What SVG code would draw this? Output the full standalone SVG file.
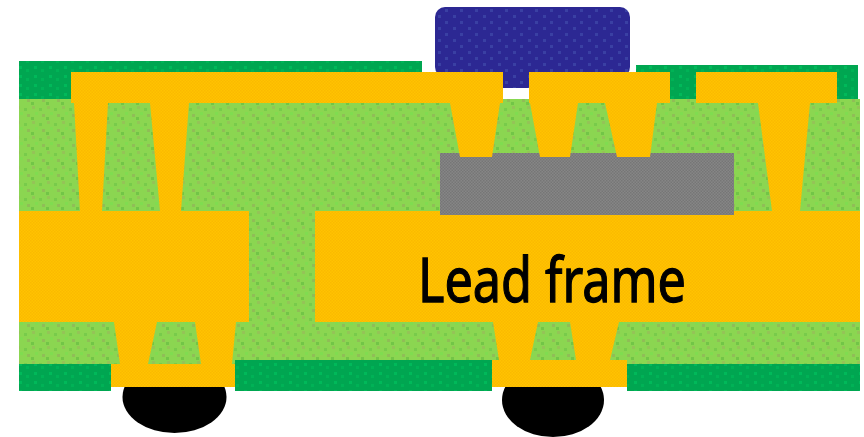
<svg xmlns="http://www.w3.org/2000/svg" width="864" height="437" viewBox="0 0 864 437">
<defs>
<pattern id="py" width="3" height="3" patternUnits="userSpaceOnUse"><rect width="3" height="3" fill="#ffc400"/><rect width="1.5" height="1.5" fill="#fbb900"/><rect x="1.500" y="1.500" width="1.500" height="1.500" fill="#fbb900"/></pattern>
<pattern id="pg" width="15" height="15" patternUnits="userSpaceOnUse"><rect width="15" height="15" fill="#8bd651"/><rect x="2" y="1" width="3" height="3" fill="#94c457"/><rect x="9" y="3" width="3" height="3" fill="#78cb4b"/><rect x="5" y="7" width="3" height="3" fill="#80dc50"/><rect x="12" y="9" width="3" height="3" fill="#90bd57"/><rect x="1" y="12" width="3" height="3" fill="#72c547"/></pattern>
<pattern id="pm" width="15" height="9" patternUnits="userSpaceOnUse"><rect width="15" height="9" fill="#00a651"/><rect x="4" y="3" width="3" height="3" fill="#00b95a"/><rect x="11" y="6" width="3" height="3" fill="#00b256"/></pattern>
<pattern id="pb" width="15" height="12" patternUnits="userSpaceOnUse"><rect width="15" height="12" fill="#2c2893"/><rect x="3" y="3" width="3" height="3" fill="#3a40a3"/><rect x="10" y="9" width="3" height="3" fill="#3a40a3"/></pattern>
<pattern id="pk" width="3" height="3" patternUnits="userSpaceOnUse"><rect width="3" height="3" fill="#868686"/><rect width="1.500" height="1.500" fill="#767676"/><rect x="1.500" y="1.500" width="1.500" height="1.500" fill="#767676"/></pattern>
<style>.y{fill:url(#py)}.g{fill:url(#pg)}.m{fill:url(#pm)}.b{fill:url(#pb)}.k{fill:url(#pk)}.s{fill:#000}</style>
</defs>
<rect width="864" height="437" fill="#fff"/>
<ellipse class="s" cx="174.500" cy="397" rx="52" ry="36"/>
<ellipse class="s" cx="553" cy="400" rx="51" ry="37"/>
<rect class="g" x="19" y="99" width="841" height="265"/>
<rect class="b" x="435" y="7" width="195" height="70" rx="10"/>
<rect class="b" x="503" y="70" width="26" height="18"/>
<rect x="503" y="88" width="26" height="11" fill="#fff"/>
<path class="m" d="M19 61H422V72H71V99H19Z"/>
<path class="m" d="M636 65H858V99H837V72H696V99H670V72H636Z"/>
<path class="y" d="M19 211H249V322H236L232 364H235V387H111V364H120L114 322H19Z"/>
<path class="g" d="M157 322H195L201 364H148Z"/>
<path class="y" d="M315 211H860V322H619L610 360H627V387H492V360H499L493 322H315Z"/>
<path class="g" d="M538 322H570L576 360H530Z"/>
<rect class="k" x="440" y="153" width="294" height="62"/>
<path class="y" d="M71 72H503V103H500L492 157H460L450 103H189L181 211H160L150 103H108L102 211H80L74 103H71Z"/>
<path class="y" d="M529 72H670V103H657L650 157H617L605 103H578L570 157H540L530 103H529Z"/>
<path class="y" d="M696 72H837V103H810L800 211H772L758 103H696Z"/>
<rect class="m" x="19" y="364" width="92" height="27"/>
<rect class="m" x="235" y="360" width="257" height="31"/>
<rect class="m" x="627" y="364" width="233" height="27"/>
<text x="418" y="302" font-family="'Noto Sans','DejaVu Sans',sans-serif" font-size="62" fill="#000" stroke="#000" stroke-width="1.300" textLength="268" lengthAdjust="spacingAndGlyphs">Lead frame</text>
</svg>
